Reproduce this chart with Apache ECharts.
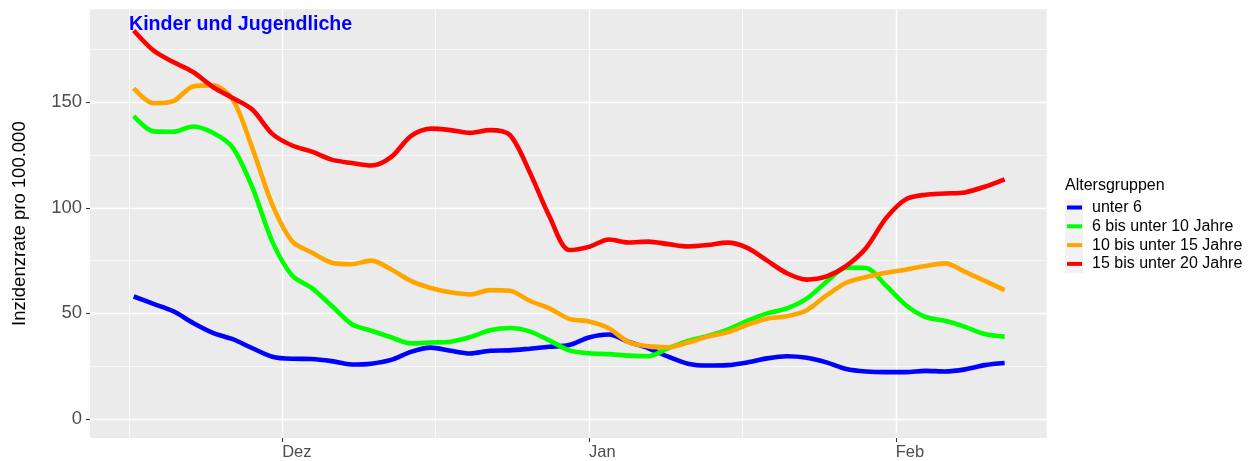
<!DOCTYPE html>
<html><head><meta charset="utf-8">
<script src="https://cdn.jsdelivr.net/npm/echarts@6/dist/echarts.min.js"></script>
<style>html,body{margin:0;padding:0;background:#fff}#c{width:1256px;height:461px}</style>
</head><body><div id="c"></div>
<script>
// x = days since 1 Dec
const days = [-15,-13,-11,-9,-7,-5,-3,-1,1,3,5,7,9,11,13,15,17,19,21,23,25,27,29,31,33,35,37,39,41,43,45,47,49,51,53,55,57,59,61,63,65,67,69,71,73];
const unter6 = [58,54.5,51,45.5,40.8,37.8,33.5,29.5,28.5,28.4,27.4,25.8,26.2,28,31.8,33.8,32.3,31,32.3,32.5,33.3,34.2,35,38.6,40,36.5,33.5,29.5,26.2,25.3,25.5,26.8,28.7,29.7,29,26.8,23.7,22.5,22.2,22.2,22.8,22.5,23.5,25.5,26.5];
const g6bis10 = [143.5,136.2,136,138.5,135.5,128.5,109.5,84,68,62,53.6,45,41.8,38.7,35.8,36.2,36.6,38.8,42,43.1,41.5,37.2,32.5,31.1,30.7,30,29.7,33.5,37,39.3,42.3,46.5,50,52.4,57,65,71.7,71.5,63.2,54,48.3,46.5,43.6,40.2,39];
const g10bis15 = [156.6,149.5,150.5,157.5,158,151.3,128,101.5,84.2,78.8,74,73.3,75,70.9,65.4,62,60,59,61,60.7,56,52.4,47.4,46.2,43,36.4,34.4,34,36.2,39,41,44.6,47.5,48.6,51.5,58.5,64.5,67.2,69.2,70.7,72.4,73.7,69.7,65.4,61];
const g15bis20 = [184,174.5,169,164.3,157.2,152,146.4,135,129.5,126.6,122.8,121.2,120,124,134,137.5,136.8,135.5,136.8,134.5,117,96,80,81.5,85,83.6,84,82.8,81.7,82.4,83.5,81,75,69,66,67.5,72.5,81,95,104,106.2,106.8,107.3,110,113.5];
const groupNames = ['unter 6','6 bis unter 10 Jahre','10 bis unter 15 Jahre','15 bis unter 20 Jahre'];
const monthTicks = [0,31,62];
const monthLabels = ['Dez','Jan','Feb'];
const minorX = [-15.45,15.5,46.5];
const yTicks = [0,50,100,150];
const yMinor = [25,75,125,175];

const FONT = 'Liberation Sans, Arial, sans-serif';
const colors = ['#0000FF','#00FF00','#FFA500','#FF0000'];
const seriesVals = [unter6,g6bis10,g10bis15,g15bis20];
function pairs(vals){ return days.map((d,i)=>[d, vals[i]]); }

const gridLines = [].concat(
  minorX.map(x=>({xAxis:x, lineStyle:{color:'#FFFFFF', width:0.7, type:'solid'}})),
  yMinor.map(y=>({yAxis:y, lineStyle:{color:'#FFFFFF', width:0.7, type:'solid'}})),
  monthTicks.map(x=>({xAxis:x, lineStyle:{color:'#FFFFFF', width:1.4, type:'solid'}})),
  yTicks.map(y=>({yAxis:y, lineStyle:{color:'#FFFFFF', width:1.4, type:'solid'}}))
);

const series = seriesVals.map((vals,i)=>({
  name: groupNames[i], type:'line', data: pairs(vals), showSymbol:false, smooth:0.3,
  lineStyle:{width:4.6, color:colors[i]}, itemStyle:{color:colors[i]}, z: 2+i
}));
series[0].markLine = {silent:true, symbol:'none', z:1, animation:false, label:{show:false}, emphasis:{disabled:true}, data: gridLines};

const chart = echarts.init(document.getElementById('c'));
chart.setOption({
  animation:false,
  textStyle:{fontFamily:FONT},
  title:[
    {text:'Kinder und Jugendliche', left:129, top:15, padding:0, textStyle:{color:'#0000FF', fontWeight:'bold', fontSize:19.6, fontFamily:FONT}},
    {text:'Altersgruppen', left:1065, top:178, padding:0, textStyle:{color:'#000', fontWeight:'normal', fontSize:16, fontFamily:FONT}}
  ],
  graphic:[{type:'rect', shape:{x:1065, y:199.3, width:18.3, height:74}, style:{fill:'#F2F2F2'}, z:0}],
  legend:{
    orient:'vertical', left:1067, top:199.5, padding:0, itemGap:2.8, itemWidth:15, itemHeight:4, icon:'rect',
    data: groupNames,
    formatter: n => '{a|' + n + '}',
    textStyle:{color:'#000', fontSize:16, fontFamily:FONT, rich:{a:{padding:[0,0,0,5], fontSize:16, lineHeight:16, color:'#000', fontFamily:FONT}}},
    selectedMode:false
  },
  grid:{left:90, top:9.3, right:209.3, bottom:21.7, show:true, backgroundColor:'#EBEBEB', borderWidth:0},
  xAxis:{
    type:'value', min:-19.42, max:77.25,
    splitLine:{show:false}, axisLine:{show:true, onZero:false, lineStyle:{color:'rgba(0,0,0,0)'}},
    axisTick:{show:true, customValues:monthTicks, length:4, lineStyle:{color:'#333333', width:1}},
    axisLabel:{customValues:monthTicks, formatter: v => monthLabels[monthTicks.indexOf(v)] || '', align:'left', fontSize:16.5, color:'#4D4D4D', margin:6, fontFamily:FONT}
  },
  yAxis:{
    type:'value', min:-9, max:194,
    splitLine:{show:false}, axisLine:{show:true, onZero:false, lineStyle:{color:'rgba(0,0,0,0)'}},
    axisTick:{show:true, customValues:yTicks, length:4, lineStyle:{color:'#333333', width:1}},
    axisLabel:{customValues:yTicks, fontSize:18.5, color:'#4D4D4D', margin:8, fontFamily:FONT},
    name:'Inzidenzrate pro 100.000', nameLocation:'middle', nameGap:61,
    nameTextStyle:{fontSize:18.5, color:'#000', fontFamily:FONT}
  },
  series: series
});
</script></body></html>
